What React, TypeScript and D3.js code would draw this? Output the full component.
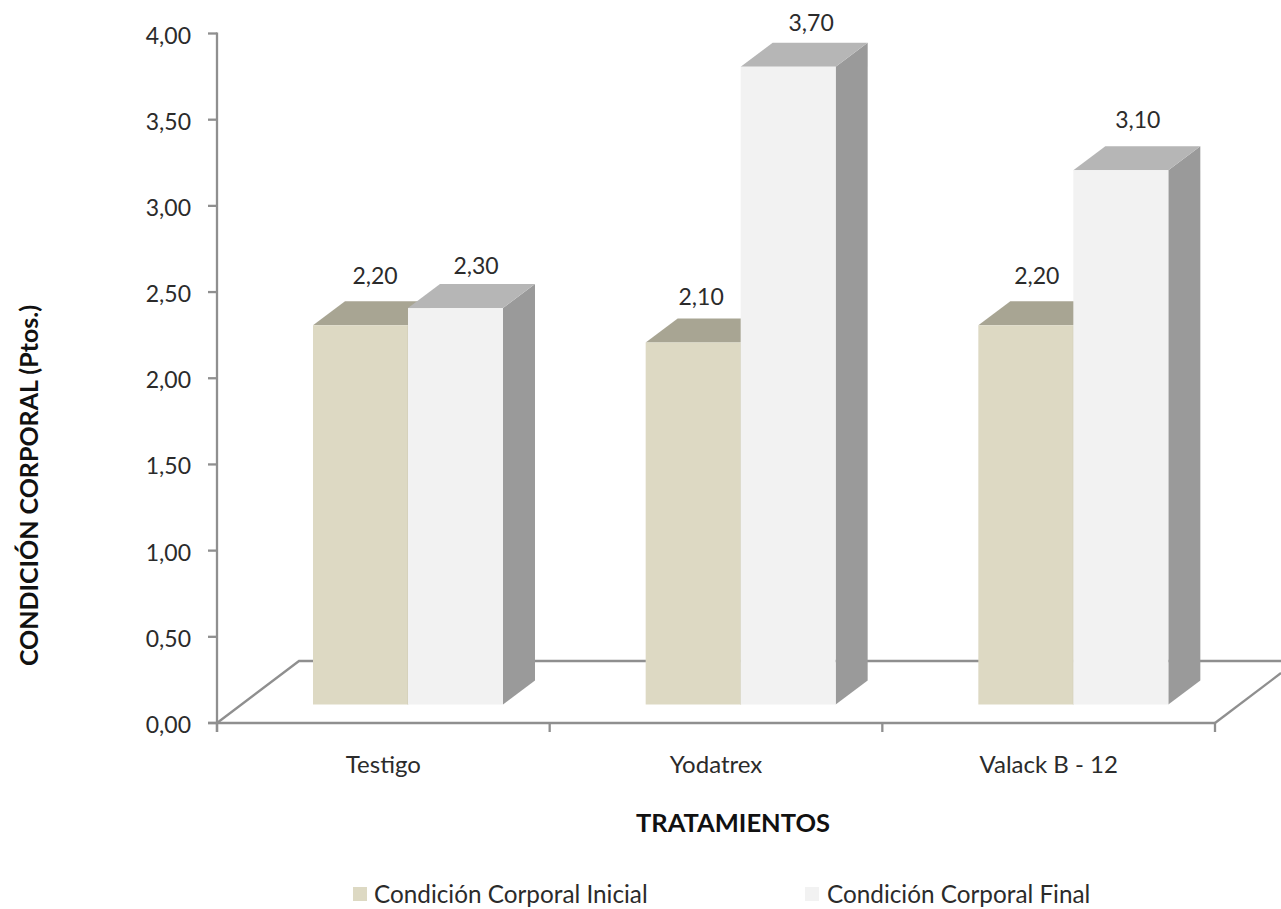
import React from "react";
import * as d3 from "d3";

const categories = ["Testigo", "Yodatrex", "Valack B - 12"];
const inicial = [2.2, 2.1, 2.2];
const final = [2.3, 3.7, 3.1];
const yTicks = [0, 0.5, 1, 1.5, 2, 2.5, 3, 3.5, 4];
const seriesNames = ["Condición Corporal Inicial", "Condición Corporal Final"];

const FONT = "Lato, 'Open Sans', sans-serif";
const TEXT = "#2b2b2b";
const AXIS = "#8f8f8f";
const AXIS_W = 2.3;
const fmt = (v: number) => v.toFixed(2).replace(".", ",");

const y = d3.scaleLinear().domain([0, 4]).range([723, 33.5]);
const x0 = d3.scaleBand<string>().domain(categories).range([217, 1215]);
const x1 = d3.scaleBand<string>().domain(["i", "f"]).range([96, 286]);

const depthX = 32, depthY = 24, lift = 18.5;
const floorX = 82, floorY = 62;
const line = d3.line<[number, number]>();

// label placement relative to each bar's front-top centre
const initialNudgeX = [14.5, 8, 11];
const initialNudgeY = [-41.5, -38, -41.5];
const finalNudgeX = [20.5, 23, 17];
const finalNudgeY = [-34, -36, -42];

function Bar({ left, value, w, front, top, side, showSide }: any) {
  const yTop = y(value) - lift;
  const yBot = y(0) - lift;
  const r = left + w;
  return (
    <g>
      {showSide && <path d={line([[r, yTop], [r + depthX, yTop - depthY], [r + depthX, yBot - depthY], [r, yBot]]) + "Z"} fill={side} />}
      <path d={line([[left, yTop], [left + depthX, yTop - depthY], [r + depthX, yTop - depthY], [r, yTop]]) + "Z"} fill={top} />
      <rect x={left} y={yTop} width={w} height={yBot - yTop} fill={front} />
    </g>
  );
}

export default function App() {
  const w = x1.bandwidth();
  const x = 217, base = y(0);
  const ticksX = [...categories.map((c) => x0(c) as number), 1215];
  return (
    <svg width={1281} height={909} style={{ position: "absolute", left: 0, top: 0, background: "#fff" }} fontFamily={FONT}>
      {/* floor */}
      <path d={line([[x, base], [x + floorX, base - floorY], [1281, base - floorY]]) as string} fill="none" stroke={AXIS} strokeWidth={AXIS_W} />
      <path d={line([[1215, base], [1281, base - 50]]) as string} fill="none" stroke={AXIS} strokeWidth={AXIS_W} />
      {/* axes */}
      <line x1={x} x2={x} y1={y(4) - 1} y2={base + 9} stroke={AXIS} strokeWidth={AXIS_W} />
      <line x1={x - 9} x2={1215} y1={base} y2={base} stroke={AXIS} strokeWidth={AXIS_W} />
      {yTicks.map((t) => (
        <g key={t}>
          <line x1={x - 9} x2={x} y1={y(t)} y2={y(t)} stroke={AXIS} strokeWidth={AXIS_W} />
          <text x={191} y={y(t) + 10} textAnchor="end" fontSize={23} fill={TEXT}>{fmt(t)}</text>
        </g>
      ))}
      {ticksX.map((t) => (
        <line key={t} x1={t} x2={t} y1={base} y2={base + 9} stroke={AXIS} strokeWidth={AXIS_W} />
      ))}
      {/* bars */}
      {categories.map((c, i) => {
        const b = x0(c) as number;
        const li = b + (x1("i") as number);
        const lf = b + (x1("f") as number);
        return (
          <g key={c}>
            <Bar left={li} value={inicial[i]} w={w} front="#DDD9C3" top="#A8A593" side="#8f8c7b" showSide={false} />
            <line x1={li + w} x2={li + w} y1={y(inicial[i]) - lift} y2={base - lift} stroke="#cfcbb4" strokeWidth={1} />
            <Bar left={lf} value={final[i]} w={w} front="#F2F2F2" top="#B6B6B6" side="#9A9A9A" showSide />
            <text x={li + w / 2 + initialNudgeX[i]} y={y(inicial[i]) - lift + initialNudgeY[i]} textAnchor="middle" fontSize={23} fill={TEXT}>{fmt(inicial[i])}</text>
            <text x={lf + w / 2 + finalNudgeX[i]} y={y(final[i]) - lift + finalNudgeY[i]} textAnchor="middle" fontSize={23} fill={TEXT}>{fmt(final[i])}</text>
            <text x={b + x0.bandwidth() / 2} y={773} textAnchor="middle" fontSize={24} fill={TEXT}>{c}</text>
          </g>
        );
      })}
      {/* titles */}
      <text x={733} y={832} textAnchor="middle" fontSize={25.5} fontWeight={700} fill="#111">TRATAMIENTOS</text>
      <text transform="translate(38,485.5) rotate(-90)" textAnchor="middle" fontSize={25} fontWeight={700} fill="#111">CONDICIÓN CORPORAL (Ptos.)</text>
      {/* legend */}
      <rect x={353} y={887} width={14} height={14} fill="#DDD9C3" />
      <text x={374} y={903} fontSize={24.3} fill={TEXT}>{seriesNames[0]}</text>
      <rect x={805} y={887} width={14} height={14} fill="#F2F2F2" />
      <text x={827} y={903} fontSize={24.3} fill={TEXT}>{seriesNames[1]}</text>
    </svg>
  );
}
